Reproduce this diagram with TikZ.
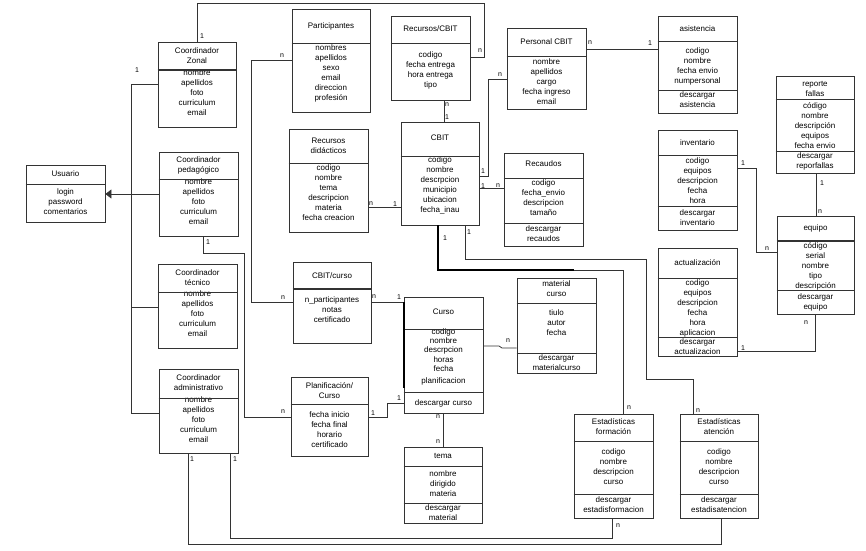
\documentclass[tikz,border=0pt]{standalone}
\usepackage{fontspec}
\setmainfont{Liberation Sans}
\usepackage{tikz}
\usetikzlibrary{fit, arrows.meta}

\newcommand{\classline}[3][]{\draw[Link,#1] (#2.west |- 0,#3) -- (#2.east |- 0,#3);}

\begin{document}
\begin{tikzpicture}[x=1pt, y=-1pt,
	Link/.style={draw=black!80, line width=0.8pt},
	BoldLink/.style={draw=black, line width=1.8pt},
	ClassBox/.style={rectangle, draw=black!80, line width=0.8pt, inner sep=0pt},
	ClassText/.style={align=center, font=\fontsize{8}{10}\selectfont, inner sep=0pt},
	Mult/.style={font=\fontsize{7}{8}\selectfont, inner sep=0pt}]

	\useasboundingbox (0,0) rectangle (866,550);

	% Nodes
	\node[ClassBox, fit={(158,42) (236,127)}] (Zonal) {};
	\node[ClassText] (ZonalT) at (Zonal.north |- 0,56) {Coordinador\\Zonal};
	\node[ClassText] (ZonalA) at (Zonal.north |- 0,93) {nombre\\apellidos\\foto\\curriculum\\email};
	\classline[line width=1.6pt]{Zonal}{70}

	\node[ClassBox, fit={(26,165) (105,222)}] (Usuario) {};
	\node[ClassText] (UsuarioT) at (Usuario.north |- 0,174) {Usuario};
	\node[ClassText] (UsuarioA) at (Usuario.north |- 0,202) {login\\password\\comentarios};
	\classline{Usuario}{184}

	\node[ClassBox, fit={(159,152) (238,236)}] (Pedag) {};
	\node[ClassText] (PedagT) at (Pedag.north |- 0,165) {Coordinador\\pedagógico};
	\node[ClassText] (PedagA) at (Pedag.north |- 0,202) {nombre\\apellidos\\foto\\curriculum\\email};
	\classline{Pedag}{179}

	\node[ClassBox, fit={(158,264) (237,348)}] (Tecnico) {};
	\node[ClassText] (TecnicoT) at (Tecnico.north |- 0,278) {Coordinador\\técnico};
	\node[ClassText] (TecnicoA) at (Tecnico.north |- 0,314) {nombre\\apellidos\\foto\\curriculum\\email};
	\classline{Tecnico}{292}

	\node[ClassBox, fit={(159,369) (238,453)}] (Admin) {};
	\node[ClassText] (AdminT) at (Admin.north |- 0,383) {Coordinador\\administrativo};
	\node[ClassText] (AdminA) at (Admin.north |- 0,420) {nombre\\apellidos\\foto\\curriculum\\email};
	\classline{Admin}{398}

	\node[ClassBox, fit={(292,9) (370,112)}] (Partic) {};
	\node[ClassText] (ParticT) at (Partic.north |- 0,26) {Participantes};
	\node[ClassText] (ParticA) at (Partic.north |- 0,73) {nombres\\apellidos\\sexo\\email\\direccion\\profesión};
	\classline{Partic}{43}

	\node[ClassBox, fit={(391,16) (470,100)}] (RecCBIT) {};
	\node[ClassText] (RecCBITT) at (RecCBIT.north |- 0,29) {Recursos/CBIT};
	\node[ClassText] (RecCBITA) at (RecCBIT.north |- 0,70) {codigo\\fecha entrega\\hora entrega\\tipo};
	\classline{RecCBIT}{43}

	\node[ClassBox, fit={(507,28) (586,109)}] (Personal) {};
	\node[ClassText] (PersonalT) at (Personal.north |- 0,42) {Personal CBIT};
	\node[ClassText] (PersonalA) at (Personal.north |- 0,82) {nombre\\apellidos\\cargo\\fecha ingreso\\email};
	\classline{Personal}{56}

	\node[ClassBox, fit={(658,16) (737,113)}] (Asist) {};
	\node[ClassText] (AsistT) at (Asist.north |- 0,29) {asistencia};
	\node[ClassText] (AsistA) at (Asist.north |- 0,66) {codigo\\nombre\\fecha envio\\numpersonal};
	\node[ClassText] (AsistM) at (Asist.north |- 0,99.5) {descargar\\asistencia};
	\classline{Asist}{41}
	\classline{Asist}{90}

	\node[ClassBox, fit={(776,76) (854,173)}] (Reporte) {};
	\node[ClassText] (ReporteT) at (Reporte.north |- 0,89) {reporte\\fallas};
	\node[ClassText] (ReporteA) at (Reporte.north |- 0,126) {código\\nombre\\descripción\\equipos\\fecha envio};
	\node[ClassText] (ReporteM) at (Reporte.north |- 0,161.5) {descargar\\reporfallas};
	\classline{Reporte}{99}
	\classline{Reporte}{151}

	\node[ClassBox, fit={(658,130) (737,230)}] (Invent) {};
	\node[ClassText] (InventT) at (Invent.north |- 0,143) {inventario};
	\node[ClassText] (InventA) at (Invent.north |- 0,181) {codigo\\equipos\\descripcion\\fecha\\hora};
	\node[ClassText] (InventM) at (Invent.north |- 0,217.5) {descargar\\inventario};
	\classline{Invent}{155}
	\classline{Invent}{206}

	\node[ClassBox, fit={(777,216) (854,314)}] (Equipo) {};
	\node[ClassText] (EquipoT) at (Equipo.north |- 0,228) {equipo};
	\node[ClassText] (EquipoA) at (Equipo.north |- 0,266) {código\\serial\\nombre\\tipo\\descripción};
	\node[ClassText] (EquipoM) at (Equipo.north |- 0,302.5) {descargar\\equipo};
	\classline[line width=1.4pt]{Equipo}{241}
	\classline{Equipo}{290}

	\node[ClassBox, fit={(658,248) (737,356)}] (Actual) {};
	\node[ClassText] (ActualT) at (Actual.north |- 0,263) {actualización};
	\node[ClassText] (ActualA) at (Actual.north |- 0,308) {codigo\\equipos\\descripcion\\fecha\\hora\\aplicacion};
	\node[ClassText] (ActualM) at (Actual.north |- 0,347) {descargar\\actualizacion};
	\classline{Actual}{278}
	\classline{Actual}{337}

	\node[ClassBox, fit={(289,129) (368,232)}] (RecDid) {};
	\node[ClassText] (RecDidT) at (RecDid.north |- 0,146) {Recursos\\didácticos};
	\node[ClassText] (RecDidA) at (RecDid.north |- 0,192.5) {codigo\\nombre\\tema\\descripcion\\materia\\fecha creacion};
	\classline{RecDid}{163}

	\node[ClassBox, fit={(401,122) (479,225)}] (CBIT) {};
	\node[ClassText] (CBITT) at (CBIT.north |- 0,138) {CBIT};
	\node[ClassText] (CBITA) at (CBIT.north |- 0,185) {codigo\\nombre\\descrpcion\\municipio\\ubicacion\\fecha\_inau};
	\classline{CBIT}{156}

	\node[ClassBox, fit={(504,153) (583,246)}] (Recaud) {};
	\node[ClassText] (RecaudT) at (Recaud.north |- 0,164) {Recaudos};
	\node[ClassText] (RecaudA) at (Recaud.north |- 0,198) {codigo\\fecha\_envio\\descripcion\\tamaño};
	\node[ClassText] (RecaudM) at (Recaud.north |- 0,234) {descargar\\recaudos};
	\classline{Recaud}{178}
	\classline{Recaud}{223}

	\node[ClassBox, fit={(293,262) (371,343)}] (CBITCurso) {};
	\node[ClassText] (CBITCursoT) at (CBITCurso.north |- 0,276) {CBIT/curso};
	\node[ClassText] (CBITCursoA) at (CBITCurso.north |- 0,310) {n\_participantes\\notas\\certificado};
	\classline[line width=1.4pt]{CBITCurso}{289}

	\node[ClassBox, fit={(517,278) (596,373)}] (MatCurso) {};
	\node[ClassText] (MatCursoT) at (MatCurso.north |- 0,289) {material\\curso};
	\node[ClassText] (MatCursoA) at (MatCurso.north |- 0,323) {tiulo\\autor\\fecha};
	\node[ClassText] (MatCursoM) at (MatCurso.north |- 0,363) {descargar\\materialcurso};
	\classline{MatCurso}{303}
	\classline{MatCurso}{353}

	\node[ClassBox, fit={(404,297) (483,413)}] (Curso) {};
	\node[ClassText] (CursoT) at (Curso.north |- 0,312) {Curso};
	\node[ClassText, font=\fontsize{8}{9.2}\selectfont] (CursoA) at (Curso.north |- 0,350) {codigo\\nombre\\descrpcion\\horas\\fecha};
	\node[ClassText] (CursoB) at (Curso.north |- 0,381) {planificacion};
	\node[ClassText] (CursoM) at (Curso.north |- 0,403) {descargar curso};
	\classline{Curso}{329}
	\classline{Curso}{392}

	\node[ClassBox, fit={(291,377) (368,456)}] (Planif) {};
	\node[ClassText] (PlanifT) at (Planif.north |- 0,390.5) {Planificación/\\Curso};
	\node[ClassText] (PlanifA) at (Planif.north |- 0,429.5) {fecha inicio\\fecha final\\horario\\certificado};
	\classline{Planif}{404}

	\node[ClassBox, fit={(404,447) (482,523)}] (Tema) {};
	\node[ClassText] (TemaT) at (Tema.north |- 0,456) {tema};
	\node[ClassText] (TemaA) at (Tema.north |- 0,484) {nombre\\dirigido\\materia};
	\node[ClassText] (TemaM) at (Tema.north |- 0,513) {descargar\\material};
	\classline{Tema}{466}
	\classline{Tema}{503}

	\node[ClassBox, fit={(574,414) (653,518)}] (EstForm) {};
	\node[ClassText] (EstFormT) at (EstForm.north |- 0,427) {Estadísticas\\formación};
	\node[ClassText] (EstFormA) at (EstForm.north |- 0,466.5) {codigo\\nombre\\descripcion\\curso};
	\node[ClassText] (EstFormM) at (EstForm.north |- 0,505) {descargar\\estadisformacion};
	\classline{EstForm}{441}
	\classline{EstForm}{494}

	\node[ClassBox, fit={(680,414) (758,518)}] (EstAten) {};
	\node[ClassText] (EstAtenT) at (EstAten.north |- 0,427) {Estadísticas\\atención};
	\node[ClassText] (EstAtenA) at (EstAten.north |- 0,466.5) {codigo\\nombre\\descripcion\\curso};
	\node[ClassText] (EstAtenM) at (EstAten.north |- 0,505) {descargar\\estadisatencion};
	\classline{EstAten}{441}
	\classline{EstAten}{494}

	% Lines
	\draw[Link] (Zonal.north) |- (484,3) |- (RecCBIT.east |- 0,57);
	\draw[Link, -{Triangle[length=6pt, width=9pt]}] (Pedag.west |- 0,194) -- (Usuario.east |- 0,194);
	\draw[Link] (Zonal.west |- 0,84) -| (131,413) -- (Admin.west |- 0,413);
	\draw[Link] (Tecnico.west |- 0,307) -- (131,307);
	\draw[Link] (Partic.west |- 0,60) -| (251,302) -- (CBITCurso.west |- 0,302);
	\draw[Link] (Pedag.south -| 203,0) |- (244,253) |- (Planif.west |- 0,417);
	\draw[Link] (RecDid.east |- 0,207) -- (CBIT.west |- 0,207);
	\draw[Link] (RecCBIT.south -| 444,0) -- (CBIT.north -| 444,0);
	\draw[Link] (CBIT.east |- 0,176) -| (488,79) -- (Personal.west |- 0,79);
	\draw[Link] (CBIT.east |- 0,188) -- (Recaud.west |- 0,188);
	\draw[Link] (Personal.east |- 0,49) -- (Asist.west |- 0,49);
	\draw[Link] (Invent.east |- 0,168) -| (756,252) -- (Equipo.west |- 0,252);
	\draw[Link] (Reporte.south -| 816,0) -- (Equipo.north -| 816,0);
	\draw[Link] (Equipo.south -| 815,0) |- (Actual.east |- 0,351);
	\draw[Link] (CBIT.south -| 438,0) |- (623,270) -- (EstForm.north -| 623,0);
	\draw[BoldLink] (CBIT.south -| 438,0) |- (574,270);
	\draw[Link] (CBIT.south -| 465,0) |- (646,259) |- (693,379) -- (EstAten.north -| 693,0);
	\draw[Link] (CBITCurso.east |- 0,302) -- (Curso.west |- 0,302);
	\draw[BoldLink] (Curso.west |- 0,302) -- (Curso.west |- 0,388);
	\draw[Link] (Curso.east |- 0,346) -- (499,346) -- (502,348) -- (MatCurso.west |- 0,348);
	\draw[Link] (Planif.east |- 0,417) -| (387,403) -- (Curso.west |- 0,403);
	\draw[Link] (Curso.south -| 443,0) -- (Tema.north -| 443,0);
	\draw[Link] (Admin.south -| 188,0) |- (721,544) -- (EstAten.south -| 721,0);
	\draw[Link] (Admin.south -| 230,0) |- (612,538) -- (EstForm.south -| 612,0);

	% Multiplicities
	\foreach \mx/\my/\lab [count=\i] in {202/36/1, 480/51/n, 137/70/1, 282/56/n, 283/298/n,
		208/242/1, 283/412/n, 371/204/n, 395/204/1, 447/105/n, 447/117/1, 483/171/1,
		500/75/n, 483/186/1, 498/186/n, 590/43/n, 650/43/1, 743/163/1, 767/249/n,
		822/183/1, 820/212/n, 806/323/n, 743/348/1, 445/238/1, 469/232/1, 629/408/n,
		698/411/n, 374/297/n, 399/297/1, 508/341/n, 373/413/1, 399/398/1, 438/417/n,
		438/442/n, 192/459/1, 235/459/1, 618/526/n}
		\node[Mult] (M\i) at (\mx,\my) {\lab};
\end{tikzpicture}
\end{document}
